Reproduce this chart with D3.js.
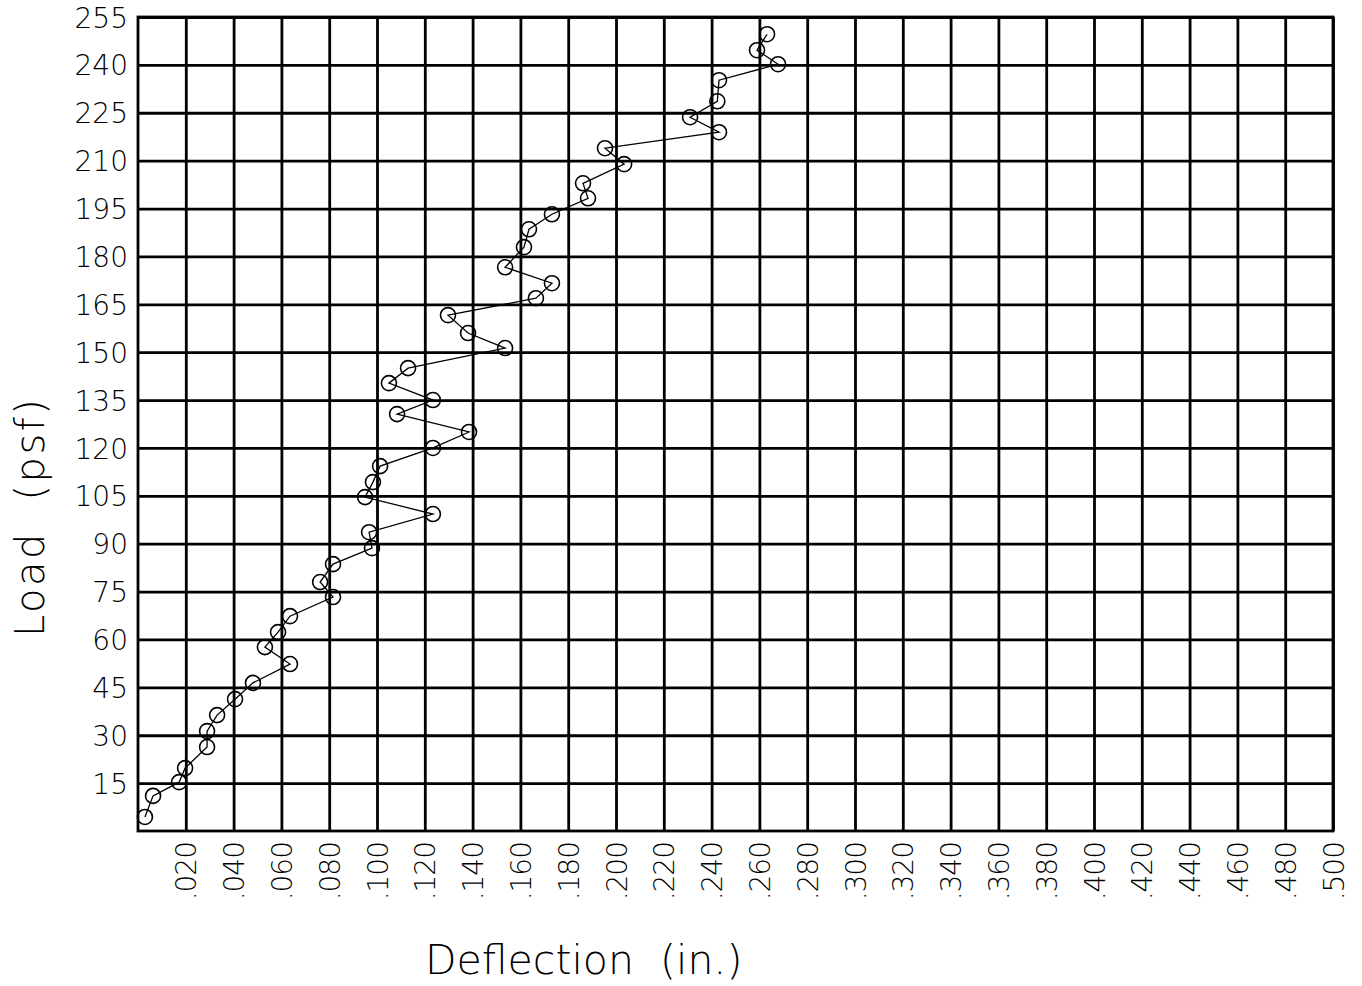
<!DOCTYPE html>
<html>
<head>
<meta charset="utf-8">
<script src="https://cdn.jsdelivr.net/npm/d3@7"></script>
<style>
  body { margin: 0; background: #fff; }
  svg { display: block; }
  .tick text { font-family: "DejaVu Sans", sans-serif; font-weight: 200; font-size: 28px; fill: #000; }
  .title { font-family: "DejaVu Sans", sans-serif; font-weight: 200; fill: #000; }
</style>
</head>
<body>
<svg id="chart"></svg>
<script>
// load / deflection readings (in load order)
const deflection = [
  0.0029, 0.0063, 0.0172, 0.0197, 0.0289, 0.0289, 0.0331, 0.0406, 0.0481, 0.0636,
  0.0531, 0.0586, 0.0636, 0.0816, 0.0762, 0.0816, 0.0979, 0.0967, 0.1234, 0.0950,
  0.0983, 0.1013, 0.1234, 0.1385, 0.1084, 0.1234, 0.1050, 0.1130, 0.1536, 0.1381,
  0.1297, 0.1665, 0.1732, 0.1536, 0.1615, 0.1636, 0.1732, 0.1883, 0.1862, 0.2034,
  0.1954, 0.2431, 0.2310, 0.2424, 0.2431, 0.2678, 0.2590, 0.2632
];
const load = [
  4.4, 11.0, 15.3, 19.7, 26.3, 31.3, 36.3, 41.3, 46.4, 52.3,
  57.6, 62.3, 67.3, 73.3, 78.0, 83.6, 88.6, 93.6, 99.3, 104.6,
  109.3, 114.3, 120.0, 125.0, 130.6, 135.0, 140.3, 145.0, 151.3, 156.0,
  161.6, 166.9, 171.6, 176.6, 182.9, 188.5, 193.2, 198.2, 202.9, 208.9,
  213.9, 218.9, 223.6, 228.6, 235.2, 240.2, 244.6, 249.6
];
const xTicks = d3.range(1, 26).map(function (i) { return i * 0.02; });
const yTicks = d3.range(1, 18).map(function (i) { return i * 15; });

const data = deflection.map(function (d, i) {
  return { x: d, y: load[i] };
});

const W = 1362, H = 986;
const margin = { left: 138, top: 17, right: 1333, bottom: 831 };
const width = margin.right - margin.left;
const height = margin.bottom - margin.top;

const svg = d3.select("#chart").attr("width", W).attr("height", H);

const x = d3.scaleLinear().domain([0, 0.5]).range([0, width]);
const y = d3.scaleLinear().domain([0, 255]).range([height, 0]);

const g = svg.append("g").attr("transform", `translate(${margin.left},${margin.top})`);

// x - axis + vertical grid
const xAxis = g.append("g")
  .attr("transform", `translate(0,${height})`)
  .call(d3.axisBottom(x)
    .tickValues(xTicks)
    .tickSizeInner(-height)
    .tickSizeOuter(0)
    .tickFormat(function (d) { return d3.format(".3f")(d).replace(/^0/, ""); }));
xAxis.select(".domain").remove();
xAxis.selectAll(".tick line").attr("stroke", "#000").attr("stroke-width", 2.8);
xAxis.selectAll(".tick text")
  .attr("transform", "rotate(-90)")
  .attr("x", -11)
  .attr("y", 0)
  .attr("dy", "0.36em")
  .style("text-anchor", "end")
  .style("letter-spacing", "-1px");

// y - axis + horizontal grid
const yAxis = g.append("g")
  .call(d3.axisLeft(y)
    .tickValues(yTicks)
    .tickSizeInner(-width)
    .tickSizeOuter(0)
    .tickPadding(10));
yAxis.select(".domain").remove();
yAxis.selectAll(".tick line").attr("stroke", "#000").attr("stroke-width", 2.8);
yAxis.selectAll(".tick text").attr("dy", "0.36em");

// frame
g.append("rect")
  .attr("x", 0).attr("y", 0)
  .attr("width", width).attr("height", height)
  .attr("fill", "none")
  .attr("stroke", "#000")
  .attr("stroke-width", 2.8);

// data line
const line = d3.line()
  .x(function (d) { return x(d.x); })
  .y(function (d) { return y(d.y); });

g.append("path")
  .datum(data)
  .attr("d", line)
  .attr("fill", "none")
  .attr("stroke", "#000")
  .attr("stroke-width", 1.3);

g.selectAll(".pt")
  .data(data)
  .enter()
  .append("circle")
  .attr("class", "pt")
  .attr("cx", function (d) { return x(d.x); })
  .attr("cy", function (d) { return y(d.y); })
  .attr("r", 7.5)
  .attr("fill", "none")
  .attr("stroke", "#000")
  .attr("stroke-width", 1.6);

// titles
svg.append("text")
  .attr("class", "title")
  .attr("x", 425)
  .attr("y", 974)
  .attr("xml:space", "preserve")
  .style("font-size", "41px")
  .style("white-space", "pre")
  .text("Deflection  (in.)");

svg.append("text")
  .attr("class", "title")
  .attr("transform", "translate(44,637) rotate(-90)")
  .attr("xml:space", "preserve")
  .style("font-size", "40px")
  .style("letter-spacing", "2.5px")
  .style("white-space", "pre")
  .text("Load  (psf)");
</script>
</body>
</html>
